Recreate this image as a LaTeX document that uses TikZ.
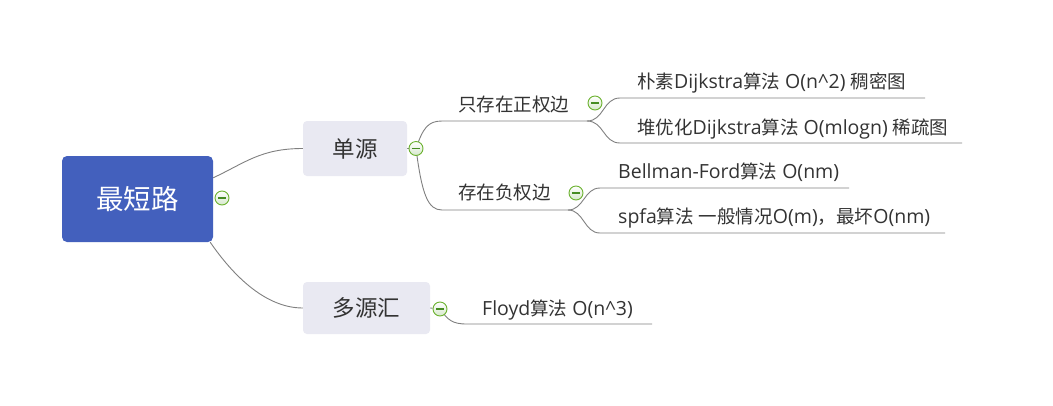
\documentclass[tikz,border=0pt]{standalone}
\usepackage{fontspec}
\setmainfont{Open Sans}
\newfontfamily\cjk{Noto Sans CJK SC}
\newcommand\zh[1]{{\cjk\fontsize{18.5}{18.5}\selectfont #1}}
\usetikzlibrary{calc}
\pgfdeclarelayer{background}
\pgfdeclarelayer{paper}
\pgfsetlayers{paper,background,main}
\definecolor{rootblue}{RGB}{67,96,189}
\definecolor{lonefill}{RGB}{233,233,242}
\definecolor{txt}{RGB}{51,51,51}
\definecolor{conncol}{RGB}{128,128,128}
\definecolor{tgreen}{RGB}{108,178,48}
\definecolor{tfill}{RGB}{214,232,204}
\definecolor{tminus}{RGB}{70,140,35}
\tikzset{
  rootbox/.style={fill=rootblue, rounded corners=5pt, minimum width=151pt, minimum height=86pt, inner sep=0pt, text=white, font=\cjk\fontsize{27.5}{27.5}\selectfont},
  lonebox/.style={fill=lonefill, rounded corners=4pt, inner sep=0pt, text=txt, font=\cjk\fontsize{22.5}{22.5}\selectfont},
  ltwo/.style={anchor=west, inner sep=0pt, text=txt, font=\cjk\fontsize{18.5}{18.5}\selectfont},
  lthree/.style={anchor=west, inner sep=0pt, text=txt, font=\fontsize{19.5}{19.5}\selectfont},
  conn/.style={draw=conncol, line width=0.9pt},
  toggle/.style={circle, draw=tgreen, line width=0.9pt, top color=white, bottom color=tfill, minimum size=14pt, inner sep=0pt,
    path picture={\draw[tminus, line width=1.3pt] ($(path picture bounding box.center)+(-4,0)$) -- ($(path picture bounding box.center)+(4,0)$);}}
}
\begin{document}
\begin{tikzpicture}[x=1pt,y=-1pt]
\begin{pgfonlayer}{paper}
\fill[white] (0,0) rectangle (1053,405);
\end{pgfonlayer}
\useasboundingbox (0,0) rectangle (1053,405);
% main nodes
\node[rootbox] (root) at (137.5,199) {最短路};
\node[toggle] (t0) at (222,198) {};
\node[lonebox, minimum width=104pt, minimum height=55pt] (dy) at (355,148.5) {单源};
\node[lonebox, minimum width=127pt, minimum height=52pt] (dyh) at (366.5,308) {多源汇};
\node[toggle] (t1) at (416,148.5) {};
\node[toggle] (t4) at (440,309) {};
% level 2
\node[ltwo] (zz) at (458,105) {只存在正权边};
\node[ltwo] (fz) at (458,193) {存在负权边};
\node[toggle] (t2) at (595,103) {};
\node[toggle] (t3) at (576,193) {};
% level 3
\node[lthree] (a1) at (637,83) {\zh{朴素}Dijkstra\zh{算法} O(n\textasciicircum2) \zh{稠密图}};
\node[lthree] (a2) at (637,129) {\zh{堆优化}Dijkstra\zh{算法} O(mlogn) \zh{稀疏图}};
\node[lthree] (b1) at (618,172) {Bellman-Ford\zh{算法} O(nm)};
\node[lthree] (b2) at (618,218) {spfa\zh{算法} \zh{一般情况}O(m)\zh{，最坏}O(nm)};
\node[lthree] (f1) at (482,310) {Floyd\zh{算法} O(n\textasciicircum3)};
% underline coordinates
\coordinate (zzA) at (442,121); \coordinate (zzB) at (587,121);
\coordinate (fzA) at (442,210); \coordinate (fzB) at (568,210);
\coordinate (a1s) at (620,98);  \coordinate (a1e) at (925,98);
\coordinate (a2s) at (620,143); \coordinate (a2e) at (962,143);
\coordinate (b1s) at (600,188); \coordinate (b1e) at (849,188);
\coordinate (b2s) at (600,233); \coordinate (b2e) at (945,233);
\coordinate (f1s) at (467,324); \coordinate (f1e) at (652,324);
\begin{pgfonlayer}{background}
\draw[conn] ($(root.north east)+(0,22)$) .. controls +(32,-15) and +(-42,0) .. (dy.west);
\draw[conn] ($(root.south east)+(-3,0)$) .. controls +(22,32) and +(-38,0) .. (dyh.west);
\draw[conn] (dy.east) -- (t1);
\draw[conn] (dyh.east) -- (t4);
\draw[conn] (t1.center) .. controls (423,128) and (428,121) .. (zzA) -- (zzB);
\draw[conn] (t1.center) .. controls (422,195) and (428,210) .. (fzA) -- (fzB);
\draw[conn] (zzB) .. controls (604,121) and (603,98) .. (a1s) -- (a1e);
\draw[conn] (zzB) .. controls (604,121) and (603,143) .. (a2s) -- (a2e);
\draw[conn] (fzB) .. controls (584,210) and (584,188) .. (b1s) -- (b1e);
\draw[conn] (fzB) .. controls (584,210) and (584,233) .. (b2s) -- (b2e);
\draw[conn] (t4.center) .. controls (448,320) and (452,324) .. (f1s) -- (f1e);
\end{pgfonlayer}
\end{tikzpicture}
\end{document}
